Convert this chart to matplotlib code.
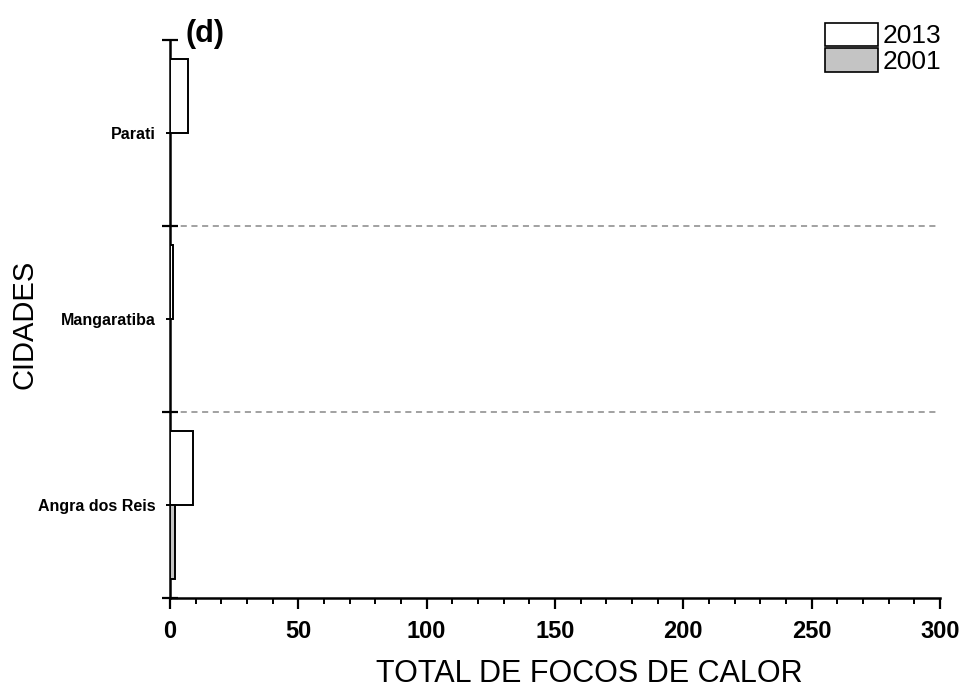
import matplotlib
matplotlib.use("Agg")
import matplotlib.pyplot as plt
from matplotlib.patches import Patch
from matplotlib.ticker import MultipleLocator, FixedLocator
import numpy as np

plt.rcParams['font.family'] = ['Liberation Sans', 'DejaVu Sans']

# Data
cities = ["Angra dos Reis", "Mangaratiba", "Parati"]
focos_2013 = [9, 1, 7]
focos_2001 = [2, 0, 0]
series_labels = ["2013", "2001"]
x_ticks = [0, 50, 100, 150, 200, 250, 300]

fig = plt.figure(figsize=(9.63, 6.88), dpi=100)
ax = fig.add_axes([170 / 963, 90 / 688, 770 / 963, 558 / 688])

centers = np.arange(len(cities)) + 0.5
bar_h = 0.4
ax.barh(centers + bar_h / 2, focos_2013, height=bar_h, color="white",
        edgecolor="black", linewidth=1.4, zorder=3)
ax.barh(centers - bar_h / 2, focos_2001, height=bar_h, color="#c4c4c4",
        edgecolor="black", linewidth=1.4, zorder=3)

ax.set_xlim(0, 300)
ax.set_ylim(0, len(cities))

# Dashed separators between cities
for yb in range(1, len(cities)):
    ax.axhline(yb, color="#888888", linestyle=(0, (4, 3)), linewidth=1.1, zorder=1)

for s in ["top", "right"]:
    ax.spines[s].set_visible(False)
for s in ["left", "bottom"]:
    ax.spines[s].set_linewidth(1.8)

# X ticks
ax.xaxis.set_major_locator(FixedLocator(x_ticks))
ax.xaxis.set_minor_locator(MultipleLocator(10))
ax.set_xticklabels([str(v) for v in x_ticks], fontsize=17, fontweight="bold")
ax.tick_params(axis="x", which="major", direction="out", length=8, width=1.6, pad=8)
ax.tick_params(axis="x", which="minor", direction="out", length=4, width=1.4)

# Y ticks: boundaries as major, city names on minor ticks
ax.yaxis.set_major_locator(FixedLocator(range(len(cities) + 1)))
ax.yaxis.set_minor_locator(FixedLocator(centers))
ax.set_yticklabels([])
ax.set_yticklabels(cities, minor=True, fontsize=11.5, fontweight="bold")
ax.tick_params(axis="y", which="major", direction="inout", length=11, width=1.6)
ax.tick_params(axis="y", which="minor", direction="out", length=3, width=1.4, pad=7)

ax.set_xlabel("TOTAL DE FOCOS DE CALOR", fontsize=22)
ax.xaxis.set_label_coords(0.544, -0.11)
ax.set_ylabel("CIDADES", fontsize=21)
ax.yaxis.set_label_coords(-0.171, 0.49)

fig.text(185 / 963, 1 - 34 / 688, "(d)", fontsize=22, fontweight="bold",
         va="center", ha="left")

handles = [Patch(facecolor="white", edgecolor="black", linewidth=1.2),
           Patch(facecolor="#c4c4c4", edgecolor="black", linewidth=1.2)]
fig.legend(handles, series_labels, loc="upper right",
           bbox_to_anchor=(952 / 963, 1 - 12 / 688), frameon=False,
           fontsize=19, handlelength=2.0, handleheight=1.0,
           labelspacing=0.0, handletextpad=0.2, borderaxespad=0)

fig.savefig("out.png", dpi=100)
